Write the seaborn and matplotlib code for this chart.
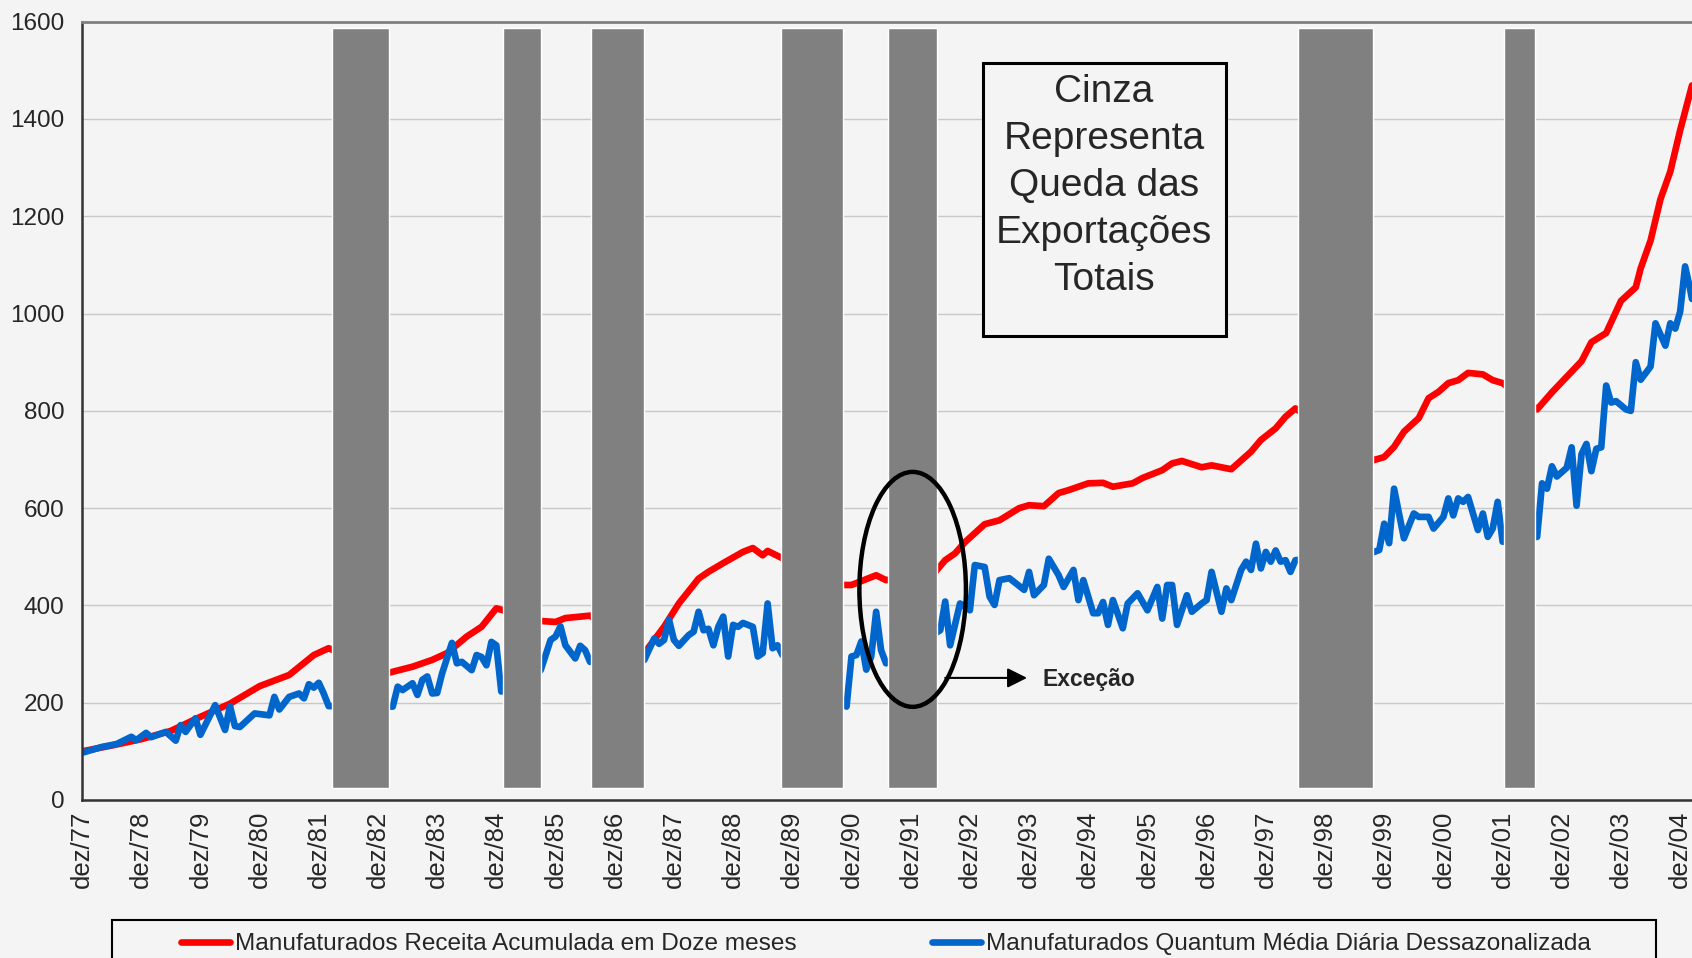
import numpy as np
import pandas as pd
import matplotlib.pyplot as plt
import matplotlib.patches as mpatches
import seaborn as sns

# meses contados a partir de dez/77 (0 = dez/77)
receita_mes = [0, 6, 12, 18, 24, 30, 36, 42, 47, 50,
               62, 67, 71, 74, 78, 81, 84,
               93, 96, 98, 103,
               114, 118, 121, 125, 127, 130, 134, 136, 138, 139, 142,
               154, 156, 161, 163,
               173, 175, 177, 179, 183, 186, 190, 192, 195, 198, 200, 204, 207, 209,
               213, 215, 219, 221, 223, 227, 229, 233, 237, 239, 242, 244, 246,
               262, 264, 266, 268, 271, 273, 275, 277, 279, 281, 284, 286, 288,
               295, 298, 301, 304, 306, 309, 312, 315, 316, 318, 320, 322, 324, 326.4]
receita_val = [100, 112, 125, 142, 171, 198, 234, 257, 298, 312,
               261, 274, 288, 302, 336, 356, 394,
               368, 366, 374, 379,
               302, 356, 404, 455, 469, 487, 510, 518, 503, 512, 497,
               442, 442, 462, 452,
               469, 493, 507, 530, 567, 575, 600, 606, 604, 631, 637, 651, 652, 644,
               651, 662, 678, 692, 697, 684, 688, 680, 716, 740, 764, 788, 805,
               699, 705, 726, 757, 785, 826, 839, 857, 863, 878, 875, 863, 857,
               803, 838, 870, 902, 941, 960, 1026, 1054, 1093, 1150, 1235, 1292, 1377, 1469]

quantum_mes = [0, 4, 7, 10, 11, 13, 14, 17, 19, 20, 21, 23, 24, 27, 29, 30, 31, 32, 35, 38,
               39, 40, 42, 44, 45, 46, 47, 48, 49, 50,
               63, 64, 65, 67, 68, 69, 70, 71, 72, 73, 75, 76, 77, 79, 80, 81, 82, 83, 84, 85,
               93, 95, 96, 97, 98, 100, 101, 102, 103,
               114, 116, 117, 118, 119, 120, 121, 123, 124, 125, 126, 127, 128, 129, 130, 131,
               132, 133, 134, 136, 137, 138, 139, 140, 141, 142,
               155, 156, 157, 158, 159, 160, 161, 162, 163,
               173, 174, 175, 176, 178, 180, 181, 183, 184, 185, 186, 188, 191, 192, 193, 195,
               196, 198, 199, 201, 202, 203, 205, 206, 207, 208, 209, 211, 212, 214, 216, 218,
               219, 220, 221, 222, 224, 225, 227, 228, 229, 231, 232, 233, 235, 236, 237, 238,
               239, 240, 241, 242, 243, 244, 245, 246,
               262, 263, 264, 265, 266, 268, 270, 271, 273, 274, 276, 277, 278, 279, 280, 281,
               283, 284, 285, 286, 287, 288,
               295, 296, 297, 298, 299, 301, 302, 303, 304, 305, 306, 307, 308, 309, 310, 311,
               313, 314, 315, 316, 318, 319, 321, 322, 323, 324, 325, 326, 326.4]
quantum_val = [97, 109, 115, 130, 123, 138, 129, 140, 122, 154, 140, 168, 134, 195, 144, 193, 152, 150, 178, 174,
               212, 186, 212, 219, 209, 238, 231, 241, 219, 193,
               192, 233, 226, 240, 216, 247, 254, 219, 220, 260, 323, 281, 284, 267, 298, 294, 277, 325, 318, 223,
               267, 329, 336, 357, 318, 291, 317, 308, 284,
               288, 332, 321, 329, 371, 329, 317, 339, 346, 387, 349, 352, 318, 356, 377, 295,
               360, 356, 364, 356, 295, 302, 404, 312, 318, 298,
               192, 295, 298, 326, 268, 295, 387, 308, 281,
               343, 349, 408, 318, 404, 390, 483, 479, 418, 401, 452, 456, 432, 469, 421, 442,
               496, 462, 438, 473, 411, 452, 384, 384, 407, 360, 411, 353, 404, 425, 390, 438,
               373, 442, 442, 360, 421, 387, 404, 411, 469, 387, 435, 411, 473, 490, 473, 527,
               476, 510, 490, 513, 490, 493, 469, 493,
               510, 514, 568, 528, 640, 538, 589, 582, 582, 558, 582, 620, 585, 620, 613, 623,
               555, 589, 541, 558, 613, 531,
               541, 651, 640, 686, 665, 683, 725, 605, 711, 732, 676, 722, 725, 852, 817, 820,
               803, 800, 900, 864, 891, 980, 934, 980, 969, 1004, 1097, 1051, 1030]

# periodos de queda das exportacoes totais (faixas cinza)
queda_inicio = [50.7, 85.4, 103.1, 141.8, 163.5, 246.6, 288.3]
queda_fim = [62.3, 93.0, 113.9, 154.3, 173.4, 261.8, 294.6]
cinza_base, cinza_topo = 25, 1588

anos = list(range(77, 100)) + list(range(0, 5))
rotulos_x = [f"dez/{a:02d}" for a in anos]
ticks_x = [12 * i for i in range(len(anos))]

nome_receita = "Manufaturados Receita Acumulada em Doze meses"
nome_quantum = "Manufaturados Quantum Média Diária Dessazonalizada"

sns.set_style("white")
plt.rcParams["font.family"] = ["Liberation Sans", "DejaVu Sans"]

W, H = 1692, 958
bg = "#f4f4f4"
fig = plt.figure(figsize=(W / 100, H / 100), dpi=100, facecolor=bg)
ax = fig.add_axes([82 / W, 1 - 800 / H, 1 - 82 / W, (800 - 21.7) / H])
ax.set_facecolor(bg)

sns.lineplot(x=receita_mes, y=receita_val, ax=ax, color="#ff0000", lw=4.8,
             label=nome_receita, zorder=2)
sns.lineplot(x=quantum_mes, y=quantum_val, ax=ax, color="#0066cc", lw=4.8,
             label=nome_quantum, zorder=2)

larg = np.subtract(queda_fim, queda_inicio)
ax.bar(queda_inicio, cinza_topo - cinza_base, width=larg, bottom=cinza_base,
       align="edge", color="#808080", zorder=3)

ax.set_xlim(0, 326.4)
ax.set_ylim(0, 1600)
ax.set_yticks(range(0, 1601, 200))
ax.set_xticks(ticks_x)
ax.set_xticklabels(rotulos_x, rotation=90)
ax.set_xlabel("")
ax.set_ylabel("")
ax.yaxis.grid(True, color="#c8c8c8", lw=1)
ax.xaxis.grid(False)
ax.set_axisbelow(True)
ax.tick_params(axis="both", direction="out", length=5.5, width=1.5, color="#333333")
ax.tick_params(axis="y", labelsize=17.5, pad=7)
ax.tick_params(axis="x", labelsize=18.5, pad=2)
for s in ["left", "bottom"]:
    ax.spines[s].set_color("#333333")
    ax.spines[s].set_linewidth(1.8)
ax.spines["top"].set_color("#808080")
ax.spines["top"].set_linewidth(2)
ax.spines["right"].set_visible(False)

# elipse da excecao e seta
ax.add_patch(mpatches.Ellipse((168.4, 433), 21.6, 483, fill=False, ec="black",
                              lw=3.2, zorder=4))
ax.annotate("", xy=(191.6, 251), xytext=(175.0, 251),
            arrowprops=dict(arrowstyle="-|>", color="black", lw=1.5,
                            mutation_scale=30, shrinkA=0, shrinkB=0), zorder=5)
ax.text(194.8, 247, "Exceção", fontsize=16.5, fontweight="bold", va="center",
        ha="left", zorder=5)

# caixa de texto
fig.add_artist(mpatches.Rectangle((983 / W, 1 - 335.6 / H), (1226 - 983) / W,
                                  (335.6 - 62.6) / H, transform=fig.transFigure,
                                  facecolor=bg, edgecolor="black", lw=2.2, zorder=6))
linhas = ["Cinza", "Representa", "Queda das", "Exportações", "Totais"]
for i, linha in enumerate(linhas):
    fig.text(1104 / W, 1 - (101.5 + 47.2 * i) / H, linha, ha="center",
             va="baseline", fontsize=28, zorder=7)

# legenda
handles, labels = ax.get_legend_handles_labels()
ax.get_legend().remove()
fig.add_artist(mpatches.Rectangle((112 / W, 1 - 980 / H), (1656 - 112) / W, 60 / H,
                                  transform=fig.transFigure, facecolor=bg,
                                  edgecolor="black", lw=1.5, clip_on=False))
fig.legend(handles, labels, loc="center left", bbox_to_anchor=(181 / W, 1 - 944 / H),
           bbox_transform=fig.transFigure, ncol=2, frameon=False, fontsize=17.6,
           borderpad=0, borderaxespad=0, handlelength=2.0, handletextpad=0.2,
           columnspacing=5.55)

fig.savefig("out.png", dpi=100, facecolor=bg)
